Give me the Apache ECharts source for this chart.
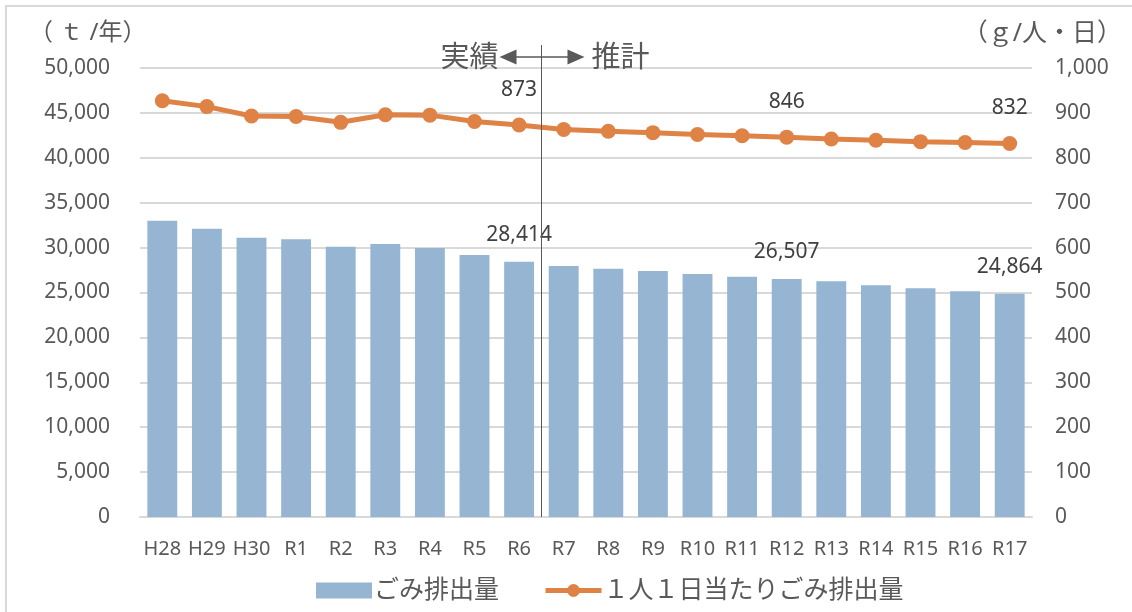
<!DOCTYPE html>
<html>
<head>
<meta charset="utf-8">
<script src="https://cdn.jsdelivr.net/npm/echarts@6/dist/echarts.min.js"></script>
<style>
html,body{margin:0;padding:0;background:#fff;}
#main{width:1132px;height:612px;}
</style>
</head>
<body>
<div id="main"></div>
<script>
const categories = ['H28','H29','H30','R1','R2','R3','R4','R5','R6','R7','R8','R9','R10','R11','R12','R13','R14','R15','R16','R17'];
const wasteTotal = [33000,32100,31100,30920,30100,30400,29960,29180,28414,27950,27650,27400,27060,26760,26507,26250,25800,25470,25130,24864];
const perCapita = [927,914,893,892,879,896,895,881,873,863,859,856,852,849,846,842,839,836,834,832];
const labelIndices = [8,14,19];
const seriesNames = ['ごみ排出量','１人１日当たりごみ排出量'];
const leftUnit = '（ ｔ /年）';
const rightUnit = '（ｇ/人・日）';
const phaseLabels = ['実績','推計'];
const splitAfter = 'R6';
const splitBefore = 'R7';

const FONT = '"Noto Sans", "Noto Sans CJK JP", sans-serif';
const TXT = '#595959';
const ORANGE = '#df8246';

const chart = echarts.init(document.getElementById('main'));
const fmt = v => v.toLocaleString('en-US');

chart.setOption({
  animation: false,
  textStyle: {fontFamily: FONT},
  grid: {left: 140, right: 100, top: 68, bottom: 95, containLabel: false},
  legend: {
    left: 311, top: 573,
    itemWidth: 56, itemHeight: 16, itemGap: 44,
    textStyle: {fontSize: 25, color: TXT, fontFamily: FONT, padding: [0, 0, 0, -3]},
    data: [
      {name: seriesNames[0], icon: 'rect'},
      {name: seriesNames[1], lineStyle: {width: 5, color: ORANGE}, itemStyle: {color: ORANGE}}
    ]
  },
  xAxis: {
    type: 'category', data: categories,
    axisTick: {show: false},
    axisLine: {lineStyle: {color: '#d9d9d9', width: 2}},
    axisLabel: {interval: 0, fontSize: 20, color: TXT, margin: 22}
  },
  yAxis: [{
    type: 'value', min: 0, max: 50000, interval: 5000,
    axisLabel: {formatter: v => fmt(v), fontSize: 21, color: TXT, margin: 30},
    splitLine: {lineStyle: {color: '#d9d9d9', width: 2}},
    axisLine: {show: false}, axisTick: {show: false}
  }, {
    type: 'value', min: 0, max: 1000, interval: 100,
    axisLabel: {formatter: v => fmt(v), fontSize: 21, color: TXT, margin: 23},
    splitLine: {show: false},
    axisLine: {show: false}, axisTick: {show: false}
  }],
  series: [{
    name: seriesNames[0], type: 'bar', yAxisIndex: 0,
    data: wasteTotal, barCategoryGap: '33%',
    itemStyle: {color: '#95b5d3'},
    label: {
      show: true, position: 'top', distance: 16, fontSize: 21, color: '#404040',
      formatter: p => labelIndices.includes(p.dataIndex) ? fmt(p.value) : ''
    }
  }, {
    name: seriesNames[1], type: 'line', yAxisIndex: 1,
    data: perCapita, symbol: 'circle', symbolSize: 15,
    lineStyle: {color: ORANGE, width: 5},
    itemStyle: {color: ORANGE},
    label: {
      show: true, position: 'top', distance: 17, fontSize: 21, color: '#404040',
      formatter: p => labelIndices.includes(p.dataIndex) ? fmt(p.value) : ''
    },
    z: 5
  }]
});

const xa = chart.convertToPixel({xAxisIndex: 0}, splitAfter);
const xb = chart.convertToPixel({xAxisIndex: 0}, splitBefore);
const xm = Math.round((xa + xb) / 2) + 0.5;
const y0 = chart.convertToPixel({yAxisIndex: 0}, 0);
const ay = 57;

chart.setOption({
  graphic: [
    {type: 'rect', shape: {x: 6, y: 6, width: 1140, height: 620}, style: {fill: 'none', stroke: '#d9d9d9', lineWidth: 2}, silent: true, z: -1},
    {type: 'text', left: 29, top: 21, style: {text: leftUnit, fontSize: 24, fill: TXT, fontFamily: FONT}},
    {type: 'text', right: 10, top: 21, style: {text: rightUnit, fontSize: 25, fill: TXT, fontFamily: FONT}},
    {type: 'line', shape: {x1: xm, y1: 45, x2: xm, y2: y0}, style: {stroke: '#595959', lineWidth: 1}, z: 10},
    {type: 'line', shape: {x1: xm - 30, y1: ay, x2: xm + 30, y2: ay}, style: {stroke: '#595959', lineWidth: 1.5}, z: 10},
    {type: 'polygon', shape: {points: [[xm - 42, ay], [xm - 25, ay - 7.5], [xm - 25, ay + 7.5]]}, style: {fill: '#595959'}, z: 10},
    {type: 'polygon', shape: {points: [[xm + 43, ay], [xm + 26, ay - 7.5], [xm + 26, ay + 7.5]]}, style: {fill: '#595959'}, z: 10},
    {type: 'text', x: xm - 43, y: ay + 2, style: {text: phaseLabels[0], fontSize: 29, fill: TXT, fontFamily: FONT, align: 'right', verticalAlign: 'middle'}, z: 10},
    {type: 'text', x: xm + 50, y: ay + 2, style: {text: phaseLabels[1], fontSize: 29, fill: TXT, fontFamily: FONT, align: 'left', verticalAlign: 'middle'}, z: 10}
  ]
});
</script>
</body>
</html>
